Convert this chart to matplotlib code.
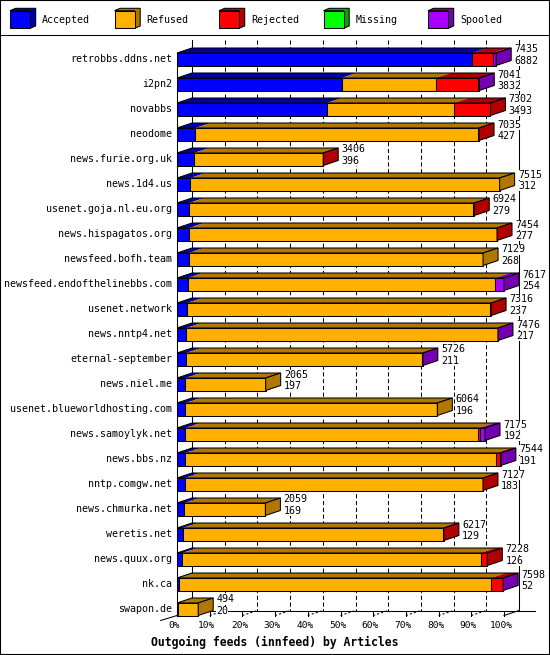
import numpy as np
import matplotlib
matplotlib.use("Agg")
import matplotlib.pyplot as plt
from matplotlib.patches import Polygon, Rectangle
from matplotlib.lines import Line2D

# innfeed outgoing feeds, articles per peer
feeds = ["retrobbs.ddns.net", "i2pn2", "novabbs", "neodome", "news.furie.org.uk",
         "news.1d4.us", "usenet.goja.nl.eu.org", "news.hispagatos.org",
         "newsfeed.bofh.team", "newsfeed.endofthelinebbs.com", "usenet.network",
         "news.nntp4.net", "eternal-september", "news.niel.me",
         "usenet.blueworldhosting.com", "news.samoylyk.net", "news.bbs.nz",
         "nntp.comgw.net", "news.chmurka.net", "weretis.net", "news.quux.org",
         "nk.ca", "swapon.de"]
offered = [7435, 7041, 7302, 7035, 3406, 7515, 6924, 7454, 7129, 7617, 7316, 7476,
           5726, 2065, 6064, 7175, 7544, 7127, 2059, 6217, 7228, 7598, 494]
accepted = [6882, 3832, 3493, 427, 396, 312, 279, 277, 268, 254, 237, 217,
            211, 197, 196, 192, 191, 183, 169, 129, 126, 52, 20]
refused = [0, 2200, 2965, 6593, 2995, 7203, 6605, 7167, 6861, 7161, 7044, 7249,
           5505, 1868, 5868, 6823, 7248, 6934, 1890, 6078, 6947, 7266, 474]
rejected = [474, 975, 844, 15, 15, 0, 40, 10, 0, 0, 35, 0,
            0, 0, 0, 40, 90, 10, 0, 10, 155, 270, 0]
missing = [0] * 23
spooled = [79, 34, 0, 0, 0, 0, 0, 0, 0, 202, 0, 10,
           10, 0, 0, 120, 15, 0, 0, 0, 0, 10, 0]

series_names = ["Accepted", "Refused", "Rejected", "Missing", "Spooled"]
colors = ["#0000ff", "#ffb000", "#ff0000", "#00ff00", "#a800ff"]
dark = ["#0000a8", "#b07800", "#b00000", "#00a800", "#7400b0"]
pct_ticks = list(range(0, 101, 10))
title = "Outgoing feeds (innfeed) by Articles"

W, H = 550, 655
X0, PXP = 177, 3.27          # pixel of 0%, pixels per percent
Y0, ROW = 59, 25             # pixel of first row, pixels per row
DX, DY = 15 / PXP, 5 / ROW   # 3d depth in data units
HT, HB = 0.24, 0.26
LW = 0.75
MONO = "DejaVu Sans Mono"

fig = plt.figure(figsize=(W / 100, H / 100), dpi=100)
ax = fig.add_axes([0, 0, 1, 1])
ax.set_xlim(-X0 / PXP, (W - X0) / PXP)
ax.set_ylim((H - Y0) / ROW, -Y0 / ROW)
ax.axis("off")

n = len(feeds)
vmax = max(offered)
top = -0.76
floor_back = (n - 1) + HB - DY
floor_front = (n - 1) + HB

# back plane, grid and floor
for p in pct_ticks[1:-1]:
    ax.plot([p + DX, p + DX], [top, floor_back], color="black", lw=LW,
            ls=(0, (4, 2.5)), zorder=1)
    ax.plot([p, p + DX], [floor_front, floor_back], color="black", lw=LW,
            ls=(0, (2, 2)), zorder=1)
ax.plot([DX, DX], [top, floor_back], color="black", lw=LW, zorder=1)
ax.plot([100 + DX, 100 + DX], [top, floor_back], color="black", lw=LW, zorder=1)
ax.plot([0, 100 + DX + 5], [floor_back + 0.02, floor_back + 0.02], color="black", lw=LW, zorder=1)
ax.plot([-5, 0], [floor_front + 0.2, floor_front], color="black", lw=LW, zorder=1)
ax.plot([100, 100 + DX], [floor_front, floor_back], color="black", lw=LW, zorder=1)
ax.plot([0, 0], [-HT, floor_front], color="black", lw=LW, zorder=1)
for p in pct_ticks:
    ax.plot([p, p], [floor_back + 0.02, floor_front + 0.02], color="black", lw=LW, zorder=1)
    ax.text(p - 0.9, (625 - Y0) / ROW, f"{p}%", ha="center", va="center",
            family=MONO, fontsize=6.8)

# bars
for i, name in enumerate(feeds):
    r = i
    vals = [accepted[i], refused[i], rejected[i], missing[i], spooled[i]]
    left, last = 0.0, 0
    for k, v in enumerate(vals):
        if v <= 0:
            continue
        w = v / vmax * 100
        x0, x1 = left, left + w
        ax.add_patch(Polygon([(x0, r - HT), (x0 + DX, r - HT - DY), (x1 + DX, r - HT - DY), (x1, r - HT)],
                             closed=True, fc=dark[k], ec="none", zorder=3))
        ax.add_patch(Polygon([(x0, r - HT), (x1, r - HT), (x1, r + HB), (x0, r + HB)],
                             closed=True, fc=colors[k], ec="black", lw=LW, zorder=4))
        left, last = x1, k
    ax.add_patch(Polygon([(0, r - HT), (DX, r - HT - DY), (left + DX, r - HT - DY), (left, r - HT)],
                         closed=True, fill=False, ec="black", lw=LW, zorder=4))
    ax.add_patch(Polygon([(left, r - HT), (left + DX, r - HT - DY), (left + DX, r + HB - DY), (left, r + HB)],
                         closed=True, fc=dark[last], ec="black", lw=LW, zorder=4))
    ax.text(-1.4, r, name, ha="right", va="center", family=MONO, fontsize=7.2)
    tx = left + DX + 1.0
    box = dict(boxstyle="square,pad=0", fc="white", ec="none")
    ax.text(tx, r - 0.38, str(offered[i]), ha="left", va="center", family=MONO,
            fontsize=7.2, bbox=box, zorder=6)
    ax.text(tx, r + 0.07, str(accepted[i]), ha="left", va="center", family=MONO,
            fontsize=7.2, bbox=box, zorder=6)

# legend and frame, in pixel positions
def fx(x):
    return x / W

def fy(y):
    return 1 - y / H

for k, name in enumerate(series_names):
    ox = 10 + k * 104.5
    d = 5.7
    fig.add_artist(Polygon([(fx(ox), fy(10.7)), (fx(ox + d), fy(8.3)), (fx(ox + 20 + d), fy(8.3)),
                            (fx(ox + 20 + d), fy(26)), (fx(ox + 20), fy(28.3)), (fx(ox + 20), fy(10.7))],
                           closed=True, fc=dark[k], ec="black", lw=LW, transform=fig.transFigure))
    fig.add_artist(Rectangle((fx(ox), fy(28.3)), 20 / W, 17.6 / H, fc=colors[k], ec="black",
                             lw=LW, transform=fig.transFigure))
    fig.text(fx(ox + 32), fy(20), name, ha="left", va="center", family=MONO, fontsize=7.2)

fig.add_artist(Line2D([0, 1], [fy(35), fy(35)], color="black", lw=LW, transform=fig.transFigure))
fig.add_artist(Rectangle((0, 0), 1, 1, fill=False, ec="black", lw=1.5, transform=fig.transFigure))
fig.text(fx(274.7), fy(642.5), title, ha="center", va="center", family=MONO,
         fontsize=8.3, fontweight="bold")

plt.savefig("out.png", dpi=100)
